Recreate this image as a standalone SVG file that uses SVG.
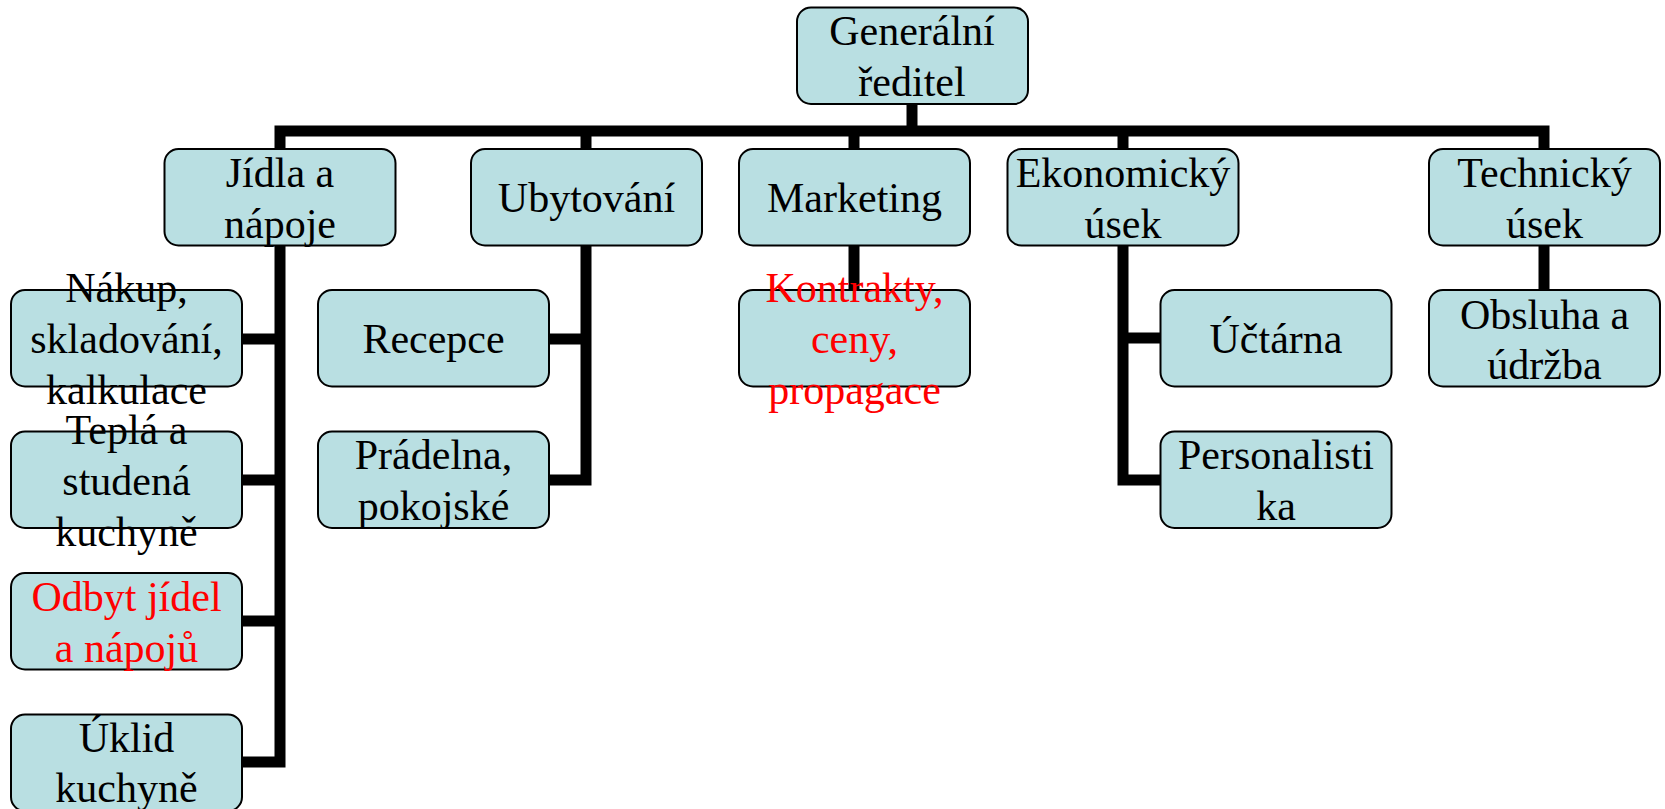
<svg xmlns="http://www.w3.org/2000/svg" width="1665" height="809" viewBox="0 0 1665 809">
<style>
.box{fill:#B9DFE2;stroke:#000;stroke-width:2}
.c{fill:none;stroke:#000;stroke-width:11;stroke-linejoin:miter;stroke-linecap:butt}
text{font-family:"Liberation Serif","Times New Roman",serif;font-size:42px;text-anchor:middle;fill:#000}
.red{fill:#FF0000}
</style>
<rect width="1665" height="809" fill="#fff"/>
<g id="connectors">
<path class="c" d="M912 103 V131"/>
<path class="c" d="M280 149 V131 H1544 V149"/>
<path class="c" d="M586 131 V149 M854 131 V149 M1123 131 V149"/>
<path class="c" d="M280 245 V762 H242 M242 339 H280 M242 480 H280 M242 621 H280"/>
<path class="c" d="M586 245 V480 H549 M549 339 H586"/>
<path class="c" d="M854 245 V291"/>
<path class="c" d="M1123 245 V480 H1160 M1123 338 H1160"/>
<path class="c" d="M1544 245 V291"/>
</g>
<g id="n-general"><rect class="box" x="797" y="7.5" width="231" height="96.5" rx="14"/><text x="912" y="45">Generální</text><text x="912" y="96">ředitel</text></g>
<g id="n-jidla"><rect class="box" x="164.5" y="149" width="231" height="96.5" rx="14"/><text x="280" y="187">Jídla a</text><text x="280" y="237.5">nápoje</text></g>
<g id="n-ubytovani"><rect class="box" x="471" y="149" width="231" height="96.5" rx="14"/><text x="586.5" y="212">Ubytování</text></g>
<g id="n-marketing"><rect class="box" x="739" y="149" width="231" height="96.5" rx="14"/><text x="854.5" y="212">Marketing</text></g>
<g id="n-ekonomicky"><rect class="box" x="1007.5" y="149" width="231" height="96.5" rx="14"/><text x="1123" y="187">Ekonomický</text><text x="1123" y="237.5">úsek</text></g>
<g id="n-technicky"><rect class="box" x="1429" y="149" width="231" height="96.5" rx="14"/><text x="1544.5" y="187">Technický</text><text x="1544.5" y="237.5">úsek</text></g>
<g id="n-nakup"><rect class="box" x="11" y="290" width="231" height="96.5" rx="14"/><text x="126.5" y="302">Nákup,</text><text x="126.5" y="353">skladování,</text><text x="126.5" y="404">kalkulace</text></g>
<g id="n-tepla"><rect class="box" x="11" y="431.5" width="231" height="96.5" rx="14"/><text x="126.5" y="444">Teplá a</text><text x="126.5" y="495">studená</text><text x="126.5" y="546">kuchyně</text></g>
<g id="n-odbyt"><rect class="box" x="11" y="573" width="231" height="96.5" rx="14"/><text class="red" x="126.5" y="611">Odbyt jídel</text><text class="red" x="126.5" y="661.5">a nápojů</text></g>
<g id="n-uklid"><rect class="box" x="11" y="714.5" width="231" height="96.5" rx="14"/><text x="126.5" y="752">Úklid</text><text x="126.5" y="802">kuchyně</text></g>
<g id="n-recepce"><rect class="box" x="318" y="290" width="231" height="96.5" rx="14"/><text x="433.5" y="353">Recepce</text></g>
<g id="n-pradelna"><rect class="box" x="318" y="431.5" width="231" height="96.5" rx="14"/><text x="433.5" y="469">Prádelna,</text><text x="433.5" y="519.5">pokojské</text></g>
<g id="n-kontrakty"><rect class="box" x="739" y="290" width="231" height="96.5" rx="14"/><text class="red" x="854.5" y="302">Kontrakty,</text><text class="red" x="854.5" y="353">ceny,</text><text class="red" x="854.5" y="404">propagace</text></g>
<g id="n-uctarna"><rect class="box" x="1160.5" y="290" width="231" height="96.5" rx="14"/><text x="1276" y="353">Účtárna</text></g>
<g id="n-personalistika"><rect class="box" x="1160.5" y="431.5" width="231" height="96.5" rx="14"/><text x="1276" y="468.5">Personalisti</text><text x="1276" y="519.5">ka</text></g>
<g id="n-obsluha"><rect class="box" x="1429" y="290" width="231" height="96.5" rx="14"/><text x="1544.5" y="328.5">Obsluha a</text><text x="1544.5" y="379">údržba</text></g>
</svg>
